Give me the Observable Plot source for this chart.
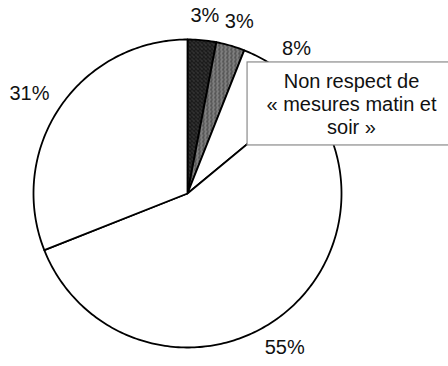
<!DOCTYPE html>
<html><head><meta charset="utf-8">
<script src="https://cdn.jsdelivr.net/npm/d3@7"></script>
<script src="https://cdn.jsdelivr.net/npm/@observablehq/plot@0.6"></script>
<style>html,body{margin:0;padding:0;background:#fff;overflow:hidden}</style>
</head><body><div id="chart"></div>
<script>
// Data, clockwise from 12 o'clock
const categories = ["Catégorie 1", "Catégorie 2", "Non respect de « mesures matin et soir »", "Catégorie 4", "Catégorie 5"];
const values = [3, 3, 8, 55, 31];
const labels = ["3%", "3%", "8%", "55%", "31%"];
const sliceFills = ["url(#stippleDark)", "url(#stippleGrey)", "#ffffff", "#ffffff", "#ffffff"];
const calloutLines = ["Non respect de", "« mesures matin et", "soir »"];

const FONT = "'Liberation Sans', Arial, sans-serif";
const FS = 20;
const RPX = 154; // pie radius in px (range half-width)

const arcs = d3.pie().sort(null).value(d => d)(values);

// slice outlines (center -> arc -> center), angles from d3.pie
const outline = arcs.flatMap((a, i) => {
  const n = Math.max(2, Math.ceil((a.endAngle - a.startAngle) / (Math.PI / 180)) + 1);
  const pts = [{i, x: 0, y: 0}];
  for (let k = 0; k < n; k++) {
    const t = a.startAngle + (a.endAngle - a.startAngle) * k / (n - 1);
    pts.push({i, x: Math.sin(t), y: Math.cos(t)});
  }
  pts.push({i, x: 0, y: 0});
  return pts;
});

// outside labels: just beyond the rim along the mid-angle, pushed out by half the text box
const ctx = document.createElement("canvas").getContext("2d");
ctx.font = `${FS}px ${FONT}`;
const gap = 17 / RPX, halfH = 7.5 / RPX;
const labelData = arcs.map((a, i) => {
  const m = (a.startAngle + a.endAngle) / 2;
  const ux = Math.sin(m), uy = Math.cos(m);
  const halfW = ctx.measureText(labels[i]).width / 2 / RPX;
  return {x: ux * (1 + gap) + ux * halfW, y: uy * (1 + gap) + uy * halfH, text: labels[i]};
});

// callout annotation (in pie units, radius = 1)
const callout = {x1: 0.39, x2: 1.8, y1: 0.312, y2: 0.851};
const calloutX = 1.065, calloutTop = 0.78, calloutStep = 23 / RPX;
const calloutData = calloutLines.map((t, k) => ({x: calloutX, y: calloutTop - k * calloutStep, text: t}));

const chart = Plot.plot({
  width: 448,
  height: 366,
  margin: 0,
  x: {domain: [-1, 1], range: [33, 341], axis: null},
  y: {domain: [-1, 1], range: [347, 39], axis: null},
  color: {type: "ordinal", domain: d3.range(values.length), range: sliceFills},
  style: {fontFamily: FONT, background: "#fff", overflow: "visible"},
  marks: [
    Plot.line(outline, {x: "x", y: "y", z: "i", fill: "i", stroke: "#000", strokeWidth: 1.8, strokeLinejoin: "round"}),
    Plot.rect([callout], {x1: "x1", x2: "x2", y1: "y1", y2: "y2", fill: "#fff", stroke: "#8a8a8a", strokeWidth: 1.2}),
    Plot.text(calloutData, {x: "x", y: "y", text: "text", lineAnchor: "top", textAnchor: "middle", fontSize: FS, fill: "#111"}),
    Plot.text(labelData, {x: "x", y: "y", text: "text", fontSize: FS, fill: "#111"})
  ]
});

// stipple textures for the two shaded slices
const ns = "http://www.w3.org/2000/svg";
const defs = document.createElementNS(ns, "defs");
function pattern(id, base, dots) {
  const p = document.createElementNS(ns, "pattern");
  p.setAttribute("id", id);
  p.setAttribute("patternUnits", "userSpaceOnUse");
  p.setAttribute("width", 4);
  p.setAttribute("height", 4);
  const bg = document.createElementNS(ns, "rect");
  bg.setAttribute("width", 4); bg.setAttribute("height", 4); bg.setAttribute("fill", base);
  p.appendChild(bg);
  for (const [x, y, c] of dots) {
    const r = document.createElementNS(ns, "rect");
    r.setAttribute("x", x); r.setAttribute("y", y);
    r.setAttribute("width", 1); r.setAttribute("height", 1); r.setAttribute("fill", c);
    p.appendChild(r);
  }
  defs.appendChild(p);
}
pattern("stippleDark", "#1c1c1c", [[1, 0, "#5a5a5a"], [3, 2, "#4a4a4a"], [0, 3, "#3a3a3a"]]);
pattern("stippleGrey", "#6e6e6e", [[0, 0, "#b0b0b0"], [2, 1, "#2e2e2e"], [1, 2, "#a0a0a0"], [3, 3, "#3a3a3a"], [3, 0, "#505050"]]);
chart.insertBefore(defs, chart.firstChild);

document.getElementById("chart").appendChild(chart);
</script>
</body></html>
